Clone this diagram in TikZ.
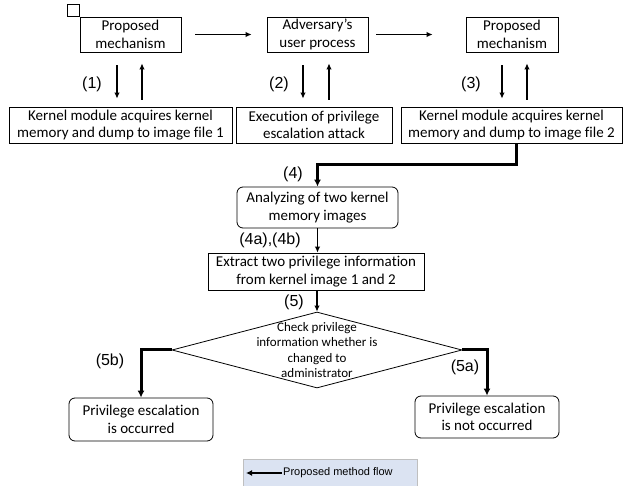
\documentclass[tikz,border=0pt]{standalone}
\usepackage{fontspec}
\setmainfont{Carlito}[Ligatures=NoCommon]
\newfontfamily\labelfont{Liberation Sans}
\usepackage{xcolor}
\usetikzlibrary{shapes,arrows,arrows.meta,positioning}
\definecolor{legendfill}{RGB}{219,227,242}

\begin{document}
\begin{tikzpicture}[
    x=1pt, y=-1pt,
    box/.style={draw, line width=0.8pt, inner sep=0pt, align=center, font=\fontsize{15}{17.5}\selectfont},
    rbox/.style={box, rounded corners=6pt},
    decision/.style={draw, diamond, line width=0.8pt, inner sep=0pt, minimum width=290pt, minimum height=76pt},
    dtext/.style={align=center, inner sep=0pt, font=\fontsize{13}{15.5}\selectfont},
    num/.style={font=\labelfont\fontsize{16}{18}\selectfont},
    flow/.style={-{Latex[length=6pt,width=5.5pt]}, line width=1.9pt},
    thickflow/.style={-{Latex[length=7pt,width=7pt]}, line width=3pt}
]
\useasboundingbox (0,0) rectangle (625,486);

% top row
\node[box, minimum width=101pt, minimum height=35pt] (P1) at (130.5,34.5) {Proposed\\mechanism};
\node[draw, line width=0.8pt, minimum size=11.5pt, inner sep=0pt, anchor=south east] (corner) at (P1.north west) {};
\node[box, minimum width=101pt, minimum height=35pt] (P2) at (317.5,34.5) {Adversary’s\\user process};
\node[box, minimum width=92pt, minimum height=35pt] (P3) at (512,34.5) {Proposed\\mechanism};

% second row
\node[box, minimum width=223pt, minimum height=36pt] (K1) at (120.5,125) {Kernel module acquires kernel\\memory and dump to image file 1};
\node[box, minimum width=156pt, minimum height=36pt] (E) at (314,125) {Execution of privilege\\escalation attack};
\node[box, minimum width=221pt, minimum height=36pt] (K2) at (511.5,125) {Kernel module acquires kernel\\memory and dump to image file 2};

% analysis column
\node[rbox, minimum width=161pt, minimum height=41pt] (A) at (317.5,207.5) {Analyzing of two kernel\\memory images};
\node[box, minimum width=216pt, minimum height=37pt] (X) at (316,271.5) {Extract two privilege information\\from kernel image 1 and 2};
\node[decision, label={[dtext]center:{Check privilege\\information whether is\\changed to\\administrator}}] (D) at (317,350) {};
\node[rbox, minimum width=144pt, minimum height=43pt] (Y1) at (141,419.5) {Privilege escalation\\is occurred};
\node[rbox, minimum width=144pt, minimum height=42pt] (Y2) at (487,417) {Privilege escalation\\is not occurred};

% step labels
\node[num] (n1) at (92,84) {(1)};
\node[num] (n2) at (279,84) {(2)};
\node[num] (n3) at (471,84) {(3)};
\node[num] (n4) at (293,174) {(4)};
\node[num] (n4ab) at (270,240) {(4a),(4b)};
\node[num] (n5) at (294,302) {(5)};
\node[num] (n5b) at (110,361) {(5b)};
\node[num] (n5a) at (465,367) {(5a)};

% connectors
\draw[flow, shorten <=14pt, shorten >=15pt] (P1.east) -- (P2.west);
\draw[flow, shorten <=8pt, shorten >=33pt] (P2.east) -- (P3.west);

\draw[flow, shorten <=13pt, shorten >=8pt] ([xshift=-13.5pt]P1.south) -- ([xshift=-3.5pt]K1.north);
\draw[flow, shorten <=7pt, shorten >=11pt] ([xshift=21.5pt]K1.north) -- ([xshift=11.5pt]P1.south);
\draw[flow, shorten <=13pt, shorten >=8pt] ([xshift=-14.5pt]P2.south) -- ([xshift=-11pt]E.north);
\draw[flow, shorten <=7pt, shorten >=11pt] ([xshift=15pt]E.north) -- ([xshift=11.5pt]P2.south);
\draw[flow, shorten <=13pt, shorten >=8pt] ([xshift=-10pt]P3.south) -- ([xshift=-9.5pt]K2.north);
\draw[flow, shorten <=7pt, shorten >=11pt] ([xshift=15.5pt]K2.north) -- ([xshift=15pt]P3.south);

\draw[thickflow] ([xshift=4.5pt]K2.south) -- ++(0,21) -| (A.north);
\draw[flow] (A.south) -- (A.south |- X.north);
\draw[flow] (D.north |- X.south) -- (D.north);
\draw[thickflow] (D.west) -| (Y1.north);
\draw[thickflow] (D.east) -| (Y2.north);

% legend
\node[draw=black!25, fill=legendfill, minimum width=174pt, minimum height=34pt, inner sep=0pt] (legbox) at (330,476) {};
\node[font=\labelfont\fontsize{11}{13}\selectfont, anchor=west, inner sep=1pt] (legtext) at (282,473) {Proposed method flow};
\coordinate (legtip) at (246,473);
\draw[-{Latex[length=6pt,width=6pt]}, line width=2.5pt] (legtext.west) -- (legtip);
\end{tikzpicture}
\end{document}
